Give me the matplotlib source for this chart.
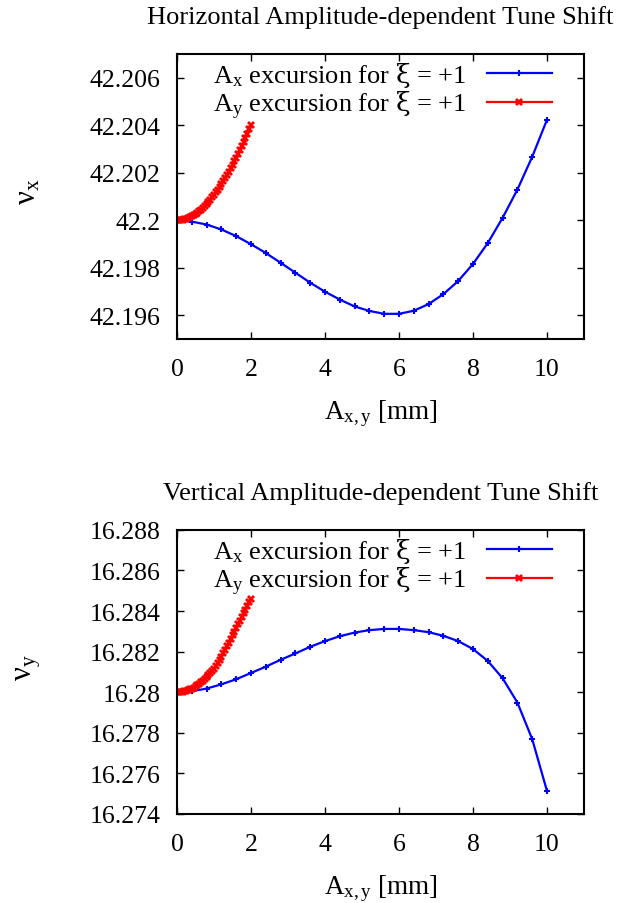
import matplotlib
matplotlib.use("Agg")
import matplotlib.pyplot as plt
from matplotlib.ticker import FixedLocator, FixedFormatter

plt.rcParams["font.family"] = ["Liberation Serif", "DejaVu Serif"]
plt.rcParams["mathtext.fontset"] = "custom"
plt.rcParams["mathtext.rm"] = "Liberation Serif"
plt.rcParams["mathtext.it"] = "Liberation Serif:italic"
plt.rcParams["mathtext.sf"] = "DejaVu Serif"
plt.rcParams["font.size"] = 18

# Amplitude grid for the horizontal-excursion scan [mm]
amp_x = [0.0, 0.4, 0.8, 1.2, 1.6, 2.0, 2.4, 2.8, 3.2, 3.6, 4.0, 4.4, 4.8,
         5.2, 5.6, 6.0, 6.4, 6.8, 7.2, 7.6, 8.0, 8.4, 8.8, 9.2, 9.6, 10.0]
# Amplitude grid for the vertical-excursion scan [mm]
amp_y = [0.00, 0.05, 0.10, 0.15, 0.20, 0.25, 0.30, 0.35, 0.40, 0.45, 0.50,
         0.55, 0.60, 0.65, 0.70, 0.75, 0.80, 0.85, 0.90, 0.95, 1.00, 1.05,
         1.10, 1.15, 1.20, 1.25, 1.30, 1.35, 1.40, 1.45, 1.50, 1.55, 1.60,
         1.65, 1.70, 1.75, 1.80, 1.85, 1.90, 1.95, 2.00]

# Horizontal tune nu_x
nux_vs_ax = [42.20000, 42.19994, 42.19982, 42.19961, 42.19933, 42.19899,
             42.19862, 42.19821, 42.19779, 42.19737, 42.19699, 42.19666,
             42.19637, 42.19618, 42.19606, 42.19606, 42.19619, 42.19647,
             42.19689, 42.19744, 42.19816, 42.19904, 42.20010, 42.20129,
             42.20267, 42.20423]
nux_vs_ay = [42.20000, 42.20000, 42.20001, 42.20002, 42.20004, 42.20006,
             42.20009, 42.20013, 42.20017, 42.20021, 42.20026, 42.20032,
             42.20038, 42.20045, 42.20052, 42.20060, 42.20068, 42.20077,
             42.20086, 42.20096, 42.20106, 42.20117, 42.20128, 42.20140,
             42.20152, 42.20164, 42.20177, 42.20190, 42.20204, 42.20218,
             42.20233, 42.20248, 42.20264, 42.20280, 42.20296, 42.20313,
             42.20330, 42.20347, 42.20365, 42.20383, 42.20402]

# Vertical tune nu_y
nuy_vs_ax = [16.28000, 16.28005, 16.28018, 16.28039, 16.28064, 16.28095,
             16.28126, 16.28160, 16.28191, 16.28224, 16.28252, 16.28276,
             16.28294, 16.28306, 16.28312, 16.28312, 16.28306, 16.28296,
             16.28278, 16.28252, 16.28213, 16.28154, 16.28069, 16.27949,
             16.27769, 16.27513]
nuy_vs_ay = [16.28000, 16.28000, 16.28001, 16.28003, 16.28005, 16.28007,
             16.28010, 16.28014, 16.28018, 16.28023, 16.28029, 16.28035,
             16.28041, 16.28049, 16.28057, 16.28065, 16.28074, 16.28084,
             16.28094, 16.28104, 16.28115, 16.28129, 16.28143, 16.28159,
             16.28175, 16.28192, 16.28210, 16.28227, 16.28245, 16.28263,
             16.28281, 16.28299, 16.28317, 16.28335, 16.28353, 16.28371,
             16.28389, 16.28407, 16.28425, 16.28443, 16.28461]

x_ticks = [0, 2, 4, 6, 8, 10]
top_yticks = [42.196, 42.198, 42.2, 42.202, 42.204, 42.206]
top_ylabels = ["42.196", "42.198", "42.2", "42.202", "42.204", "42.206"]
bot_yticks = [16.274, 16.276, 16.278, 16.28, 16.282, 16.284, 16.286, 16.288]
bot_ylabels = ["16.274", "16.276", "16.278", "16.28", "16.282", "16.284",
               "16.286", "16.288"]

label_ax = r"A$_\mathregular{x}$ excursion for $\mathsf{\xi}$ = +1"
label_ay = r"A$_\mathregular{y}$ excursion for $\mathsf{\xi}$ = +1"

fig = plt.figure(figsize=(6.17, 9.04), dpi=100)
ax_top = fig.add_axes([0.2869, 0.6239, 0.6596, 0.3153])
ax_bot = fig.add_axes([0.2869, 0.0985, 0.6596, 0.3142])


def draw_panel(ax, yax, yay, yticks, ylabels, ylim, title, ylabel):
    ax.plot(amp_x, yax, color="#0000ff", lw=1.6, marker="+", ms=5, mew=1.5,
            label=label_ax)
    ax.plot(amp_y, yay, color="#ff0000", lw=1.6, marker="X", ms=6, mew=0,
            label=label_ay)
    ax.set_xlim(0, 11)
    ax.set_ylim(*ylim)
    ax.xaxis.set_major_locator(FixedLocator(x_ticks))
    ax.set_xticklabels([str(t) for t in x_ticks])
    ax.yaxis.set_major_locator(FixedLocator(yticks))
    ax.yaxis.set_major_formatter(FixedFormatter(ylabels))
    ax.tick_params(direction="in", top=True, right=True, length=5, width=1,
                   labelsize=18.5, pad=12)
    ax.tick_params(axis="x", pad=14)
    for s in ax.spines.values():
        s.set_linewidth(1.5)
    ax.set_title(title, fontsize=19, pad=22)
    ax.set_xlabel(r"A$_\mathregular{x,y}$ [mm]", fontsize=19.5, labelpad=12)
    ax.set_ylabel(ylabel, fontsize=22, rotation=90)
    ax.yaxis.set_label_coords(-0.33, 0.52)
    leg = ax.legend(loc="upper right", bbox_to_anchor=(0.955, 1.025),
                    frameon=False, markerfirst=False, handlelength=2.5,
                    handletextpad=0.75, labelspacing=0.0, borderpad=0,
                    fontsize=19)
    for t in leg.get_texts():
        t.set_ha("right")


draw_panel(ax_top, nux_vs_ax, nux_vs_ay, top_yticks, top_ylabels,
           (42.195, 42.207), "Horizontal Amplitude-dependent Tune Shift",
           r"ν$_\mathregular{x}$")
draw_panel(ax_bot, nuy_vs_ax, nuy_vs_ay, bot_yticks, bot_ylabels,
           (16.274, 16.288), "Vertical Amplitude-dependent Tune Shift",
           r"ν$_\mathregular{y}$")

fig.savefig("out.png", dpi=100)
